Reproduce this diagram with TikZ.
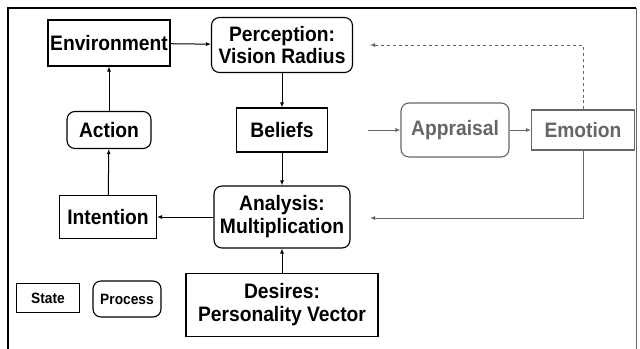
\documentclass[tikz,border=0pt]{standalone}
\usepackage{fontspec}
\setmainfont[FakeStretch=0.92]{Liberation Sans}
\usetikzlibrary{arrows.meta}
\definecolor{dimgray}{HTML}{666666}
\tikzset{
  state/.style={draw, line width=1.1bp, inner sep=0pt, align=center,
    font=\fontsize{21}{23}\selectfont\bfseries},
  process/.style={state, rounded corners=8bp},
  faded/.style={draw=dimgray, text=dimgray},
  link/.style={line width=1bp, -{Latex[length=5bp,width=4bp]}},
  key/.style={font=\fontsize{15}{16}\selectfont\bfseries}
}
\begin{document}
\begin{tikzpicture}[x=1bp,y=-1bp]
\useasboundingbox (0,0) rectangle (640,348);
% outer frame, bottom edge is cut off
\draw[line width=1.6bp] (8,352) -- (8,8) -- (636,8);
\draw[line width=0.8bp, dimgray] (636,8) -- (636,352);
% states and processes
\node[state, minimum width=122bp, minimum height=46bp] (env) at (109,43) {Environment};
\node[process, minimum width=141bp, minimum height=55bp] (perc) at (282,45) {Perception:\\Vision Radius};
\node[process, minimum width=84bp, minimum height=37bp] (act) at (109,130) {Action};
\node[state, minimum width=91bp, minimum height=44bp] (bel) at (282,130) {Beliefs};
\node[process, faded, minimum width=108bp, minimum height=54bp] (appr) at (455,130) {Appraisal};
\node[state, faded, minimum width=103bp, minimum height=40bp] (emo) at (583,130) {Emotion};
\node[state, minimum width=97bp, minimum height=43bp] (int) at (108,217) {Intention};
\node[process, minimum width=136bp, minimum height=62bp] (ana) at (282,217) {Analysis:\\Multiplication};
\node[state, minimum width=192bp, minimum height=63bp] (des) at (282,305) {Desires:\\Personality Vector};
% legend
\node[state, key, minimum width=63bp, minimum height=29bp] (keystate) at (48,298) {State};
\node[process, key, minimum width=68bp, minimum height=36bp] (keyproc) at (127,299) {Process};
% loose ends of the grey feedback arrows
\coordinate (apprin) at (368,130);
\coordinate (percin) at (370,45);
\coordinate (anain) at (370,218);
% connectors
\draw[link] (env) -- (perc);
\draw[link] (perc) -- (bel);
\draw[link] (bel) -- (ana);
\draw[link] (ana) -- (int);
\draw[link] (int) -- (act);
\draw[link] (act) -- (env);
\draw[link] (des) -- (ana);
\draw[link, dimgray, line width=0.7bp] (apprin) -- (appr);
\draw[link, dimgray, line width=0.7bp] (appr) -- (emo);
\draw[link, dimgray, dashed] (emo.north) |- (percin);
\draw[link, dimgray] (emo.south) |- (anain);
\end{tikzpicture}
\end{document}
